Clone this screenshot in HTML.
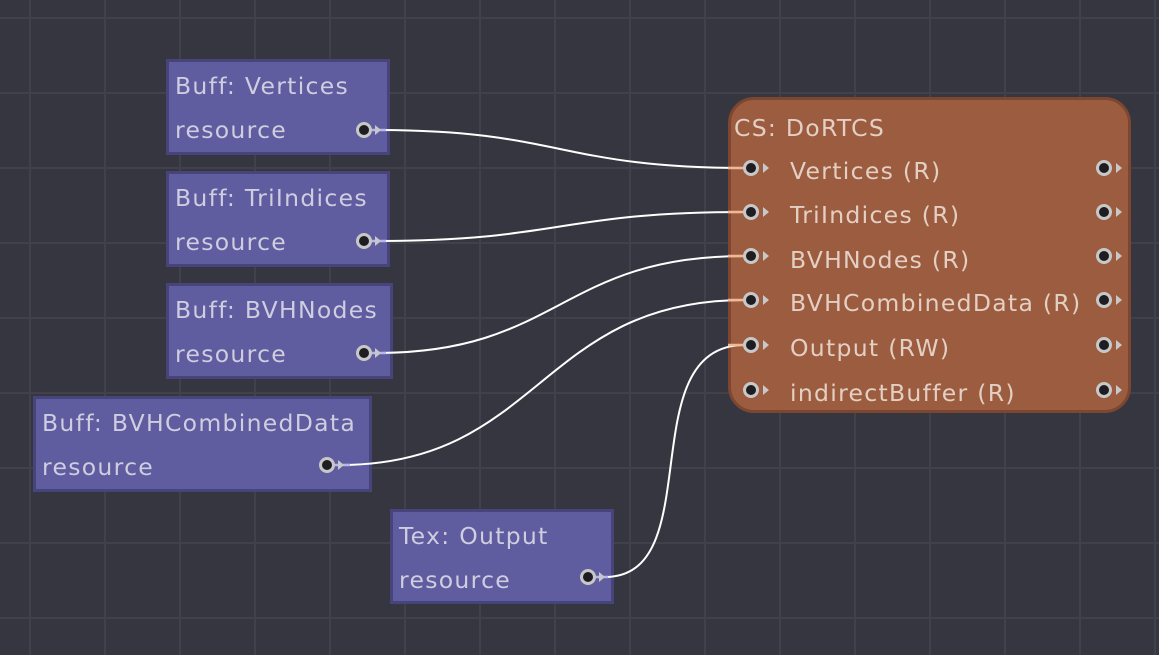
<!DOCTYPE html>
<html><head><style>
body{margin:0;width:1159px;height:655px;overflow:hidden;background:#363640;font-family:"DejaVu Sans","Liberation Sans",sans-serif;}
#bg{position:absolute;left:0;top:0;width:1159px;height:655px;
background-image:linear-gradient(to right,#41414b 2px,transparent 2px),linear-gradient(to bottom,#41414b 2px,transparent 2px);
background-size:75px 75px;background-position:29px 17px;}
.n{position:absolute;background:#5f5c9f;border:3px solid #46447b;box-sizing:border-box;color:#cfcde0;font-size:23.5px;letter-spacing:1.3px;}
.n .t{position:absolute;left:6px;top:10px;white-space:nowrap;}
.n .r{position:absolute;left:6px;top:54px;}
.cs{position:absolute;left:728px;top:97px;width:403px;height:316px;background:#9c5c3f;border:3px solid #7c4631;border-radius:26px;box-sizing:border-box;color:#e4cfc4;font-size:23.5px;letter-spacing:1.3px;}
.cs div{position:absolute;white-space:nowrap;}
svg{position:absolute;left:0;top:0;}
</style></head><body>
<div id="bg"></div>
<div class="n" style="left:166px;top:59px;width:224px;height:96px"><div class="t">Buff: Vertices</div><div class="r">resource</div></div>
<div class="n" style="left:166px;top:171px;width:224px;height:96px"><div class="t">Buff: TriIndices</div><div class="r">resource</div></div>
<div class="n" style="left:166px;top:283px;width:227px;height:96px"><div class="t">Buff: BVHNodes</div><div class="r">resource</div></div>
<div class="n" style="left:33px;top:396px;width:339px;height:96px"><div class="t">Buff: BVHCombinedData</div><div class="r">resource</div></div>
<div class="n" style="left:390px;top:509px;width:224px;height:95px"><div class="t">Tex: Output</div><div class="r">resource</div></div>
<div class="cs">
<div style="left:3px;top:14px">CS: DoRTCS</div>
<div style="left:59px;top:57px">Vertices (R)</div>
<div style="left:59px;top:101px">TriIndices (R)</div>
<div style="left:59px;top:146px">BVHNodes (R)</div>
<div style="left:59px;top:189px">BVHCombinedData (R)</div>
<div style="left:59px;top:234px">Output (RW)</div>
<div style="left:59px;top:279px">indirectBuffer (R)</div>
</div>
<svg width="1159" height="655">
<g fill="none" stroke="#fff" stroke-width="2">
<path d="M376 130 C560 130 560 168 745 168"/>
<path d="M376 241 C560 241 560 212 745 212"/>
<path d="M376 353 C560 353 560 256 745 256"/>
<path d="M340 465 C540 465 540 300 745 300"/>
<path d="M605 577 C710 577 630 345 745 345"/>
</g>
<g stroke-width="2.5">
<line x1="370" y1="130" x2="386" y2="130" stroke="#b8b6f0"/>
<line x1="370" y1="241" x2="386" y2="241" stroke="#b8b6f0"/>
<line x1="370" y1="353" x2="386" y2="353" stroke="#b8b6f0"/>
<line x1="334" y1="465" x2="350" y2="465" stroke="#b8b6f0"/>
<line x1="594" y1="577" x2="608" y2="577" stroke="#b8b6f0"/>
<line x1="728" y1="168" x2="746" y2="168" stroke="#f0b898"/>
<line x1="728" y1="212" x2="746" y2="212" stroke="#f0b898"/>
<line x1="728" y1="256" x2="746" y2="256" stroke="#f0b898"/>
<line x1="728" y1="300" x2="746" y2="300" stroke="#f0b898"/>
<line x1="728" y1="345" x2="746" y2="345" stroke="#f0b898"/>
</g>
<g fill="#1e1e22" stroke="#c8c8c8" stroke-width="3">
<circle cx="364" cy="130" r="6.5"/><circle cx="364" cy="241" r="6.5"/><circle cx="364" cy="353" r="6.5"/>
<circle cx="327" cy="465" r="6.5"/><circle cx="588" cy="577" r="6.5"/>
<circle cx="751" cy="168" r="6.5"/><circle cx="751" cy="212" r="6.5"/><circle cx="751" cy="256" r="6.5"/><circle cx="751" cy="300" r="6.5"/><circle cx="751" cy="345" r="6.5"/><circle cx="751" cy="390" r="6.5"/>
<circle cx="1104" cy="168" r="6.5"/><circle cx="1104" cy="212" r="6.5"/><circle cx="1104" cy="256" r="6.5"/><circle cx="1104" cy="300" r="6.5"/><circle cx="1104" cy="345" r="6.5"/><circle cx="1104" cy="390" r="6.5"/>
</g>
<g fill="#c8c8c8">
<path d="M375 125 l6 5 l-6 5z"/><path d="M375 236 l6 5 l-6 5z"/><path d="M375 348 l6 5 l-6 5z"/>
<path d="M338 460 l6 5 l-6 5z"/><path d="M599 572 l6 5 l-6 5z"/>
<path d="M763 163 l6 5 l-6 5z"/><path d="M763 207 l6 5 l-6 5z"/><path d="M763 251 l6 5 l-6 5z"/><path d="M763 295 l6 5 l-6 5z"/><path d="M763 340 l6 5 l-6 5z"/><path d="M763 385 l6 5 l-6 5z"/>
<path d="M1116 163 l6 5 l-6 5z"/><path d="M1116 207 l6 5 l-6 5z"/><path d="M1116 251 l6 5 l-6 5z"/><path d="M1116 295 l6 5 l-6 5z"/><path d="M1116 340 l6 5 l-6 5z"/><path d="M1116 385 l6 5 l-6 5z"/>
</g>
</svg>
</body></html>
